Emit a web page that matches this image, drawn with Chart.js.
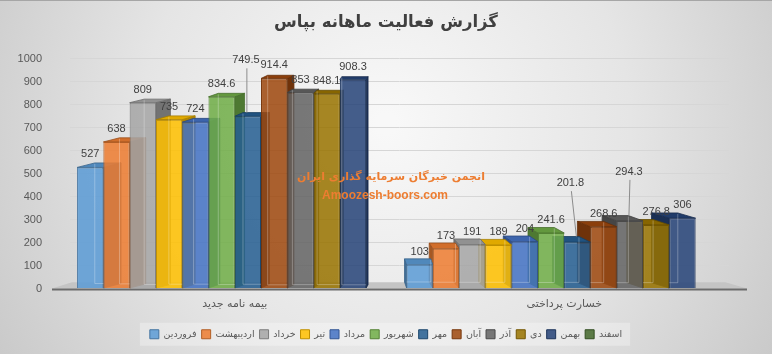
<!DOCTYPE html>
<html>
<head>
<meta charset="utf-8">
<script src="https://cdn.jsdelivr.net/npm/chart.js@4.4.1/dist/chart.umd.min.js"></script>
<style>
  html, body { margin: 0; padding: 0; }
  #wrap { width: 772px; height: 354px; position: relative; }
</style>
</head>
<body>
<div id="wrap"><canvas id="chart"></canvas></div>
<script>
const categories = ["بیمه نامه جدید", "خسارت پرداختی"]
const months = ["فروردین", "اردیبهشت", "خرداد", "تیر", "مرداد", "شهریور", "مهر", "آبان", "آذر", "دی", "بهمن", "اسفند"]
const newPolicies = [527, 638, 809, 735, 724, 834.6, 749.5, 914.4, 853, 848.1, 908.3, null]
const paidClaims = [103, 173, 191, 189, 204, 241.6, 201.8, 268.6, 294.3, 276.8, 306, null]
const yTicks = [0, 100, 200, 300, 400, 500, 600, 700, 800, 900, 1000]

const colors = ["#5B9BD5", "#ED7D31", "#A5A5A5", "#FFC000", "#4472C4", "#70AD47",
  "#255E91", "#9E480E", "#636363", "#997300", "#264478", "#43682B"]

const faFont = '"DejaVu Sans", sans-serif'
const numFont = '"Liberation Sans", Arial, sans-serif'
const textColor = "#595959"

// labels Excel pushed up with a leader line: [dx, dy from bar top]
const liftedLabels = { "6-0": [-2, -56], "6-1": [-7, -59], "8-1": [-1, -49] }

// fake perspective: bars lean toward the middle of the plot
const vanishX = 385
const depth = (cx, top) => ({ dx: -0.06 * (cx - vanishX), dy: 2 + top * 0.015 })

function rgb(hex) {
  const n = parseInt(hex.slice(1), 16)
  return [(n >> 16) & 255, (n >> 8) & 255, n & 255]
}
const rgba = (hex, a) => `rgba(${rgb(hex).join(",")},${a})`
const shade = (hex, f, a = 1) => `rgba(${rgb(hex).map(c => Math.round(c * (1 - f))).join(",")},${a})`

function poly(ctx, pts, fill) {
  ctx.beginPath()
  pts.forEach(([x, y], k) => k ? ctx.lineTo(x, y) : ctx.moveTo(x, y))
  ctx.closePath()
  ctx.fillStyle = fill
  ctx.fill()
  ctx.stroke()
}

function barsOf(chart, j) {
  const out = []
  chart.data.datasets.forEach((ds, i) => {
    const el = chart.getDatasetMeta(i).data[j]
    if (ds.data[j] == null || !el) return
    out.push({ i, el, value: ds.data[j] })
  })
  return out
}

const bars3d = {
  id: "bars3d",
  beforeDraw(chart) {
    const { ctx, width, height } = chart
    ctx.save()
    const g = ctx.createRadialGradient(width / 2, height * 0.35, 10, width / 2, height * 0.35, width * 0.62)
    g.addColorStop(0, "#f8f8f8")
    g.addColorStop(0.5, "#e5e5e5")
    g.addColorStop(1, "#c6c6c6")
    ctx.fillStyle = g
    ctx.fillRect(0, 0, width, height)
    ctx.fillStyle = "#a6a6a6"
    ctx.fillRect(0, 0, width, 1)

    const boxes = chart.legend.legendHitBoxes
    if (boxes && boxes.length) {
      const l = Math.min(...boxes.map(b => b.left)) - 10
      const r = Math.max(...boxes.map(b => b.left + b.width)) + 8
      const cy = boxes[0].top + boxes[0].height / 2
      ctx.fillStyle = "rgba(255,255,255,0.3)"
      ctx.fillRect(l, cy - 11.5, r - l, 23)
    }
    ctx.restore()
  },
  beforeDatasetsDraw(chart) {
    const { ctx, chartArea } = chart
    const yb = chart.scales.y.getPixelForValue(0)
    const left = chartArea.left - 18, right = chartArea.right + 18
    const dl = depth(left, yb), dr = depth(right, yb)
    ctx.save()
    ctx.strokeStyle = "rgba(0,0,0,0)"
    poly(ctx, [[left, yb], [right, yb], [right + dr.dx, yb - dr.dy], [left + dl.dx, yb - dl.dy]], "#c4c4c4")
    ctx.strokeStyle = "#6b6b6b"
    ctx.lineWidth = 2
    ctx.beginPath()
    ctx.moveTo(left, yb + 1)
    ctx.lineTo(right, yb + 1)
    ctx.stroke()

    categories.forEach((c, j) => {
      const items = barsOf(chart, j)
      if (chart.scales.x.getPixelForValue(j) > vanishX) items.reverse()
      items.forEach(({ i, el }) => {
        const w = el.width, x0 = el.x - w / 2, x1 = el.x + w / 2
        const top = el.y, base = el.base
        const { dx, dy } = depth(el.x, top)
        const sx = dx >= 0 ? x1 : x0
        ctx.lineWidth = 0.8
        ctx.strokeStyle = shade(colors[i], 0.35)
        poly(ctx, [[sx, top], [sx + dx, top - dy], [sx + dx, base - dy], [sx, base]], shade(colors[i], 0.3))
        poly(ctx, [[x0, top], [x1, top], [x1 + dx, top - dy], [x0 + dx, top - dy]], shade(colors[i], 0.12))
      })
    })
    ctx.restore()
  },
  afterDatasetsDraw(chart) {
    const { ctx } = chart
    ctx.save()
    categories.forEach((c, j) => {
      barsOf(chart, j).forEach(({ i, el, value }) => {
        const w = el.width, x0 = el.x - w / 2
        const { dx, dy } = depth(el.x, el.y)
        // back edges seen through the glassy front
        const bx = dx >= 0 ? x0 + dx : x0 + w + dx
        ctx.strokeStyle = "rgba(255,255,255,0.28)"
        ctx.lineWidth = 1
        ctx.beginPath()
        ctx.moveTo(bx, el.y - dy + 1)
        ctx.lineTo(bx, el.base - dy)
        ctx.lineTo(dx >= 0 ? x0 + w : x0, el.base - dy)
        ctx.stroke()

        let lx = el.x, ly = el.y - 13
        const lift = liftedLabels[`${i}-${j}`]
        if (lift) {
          lx = el.x + lift[0]
          ly = el.y + lift[1]
          ctx.strokeStyle = "#8c8c8c"
          ctx.beginPath()
          ctx.moveTo(lx + 1, ly + 8)
          ctx.lineTo(el.x - 1, el.y - dy)
          ctx.stroke()
        }
        ctx.font = `11px ${numFont}`
        ctx.fillStyle = "#404040"
        ctx.textAlign = "center"
        ctx.textBaseline = "middle"
        ctx.fillText(String(value), lx, ly)
      })
    })
    ctx.restore()
  },
  afterDraw(chart) {
    const { ctx } = chart
    ctx.save()
    ctx.fillStyle = "#ED7D31"
    ctx.textAlign = "center"
    ctx.textBaseline = "middle"
    ctx.font = `bold 11px ${faFont}`
    ctx.fillText("انجمن خبرگان سرمایه گذاری ایران", 391, 177)
    ctx.font = `bold 12px ${numFont}`
    ctx.fillText("Amoozesh-boors.com", 385, 196)
    ctx.restore()
  }
}

new Chart(document.getElementById("chart"), {
  type: "bar",
  data: {
    labels: categories,
    datasets: months.map((m, i) => ({
      label: m,
      data: [newPolicies[i], paidClaims[i]],
      backgroundColor: rgba(colors[i], 0.86),
      borderColor: shade(colors[i], 0.25),
      borderWidth: 1,
    }))
  },
  options: {
    responsive: true,
    maintainAspectRatio: false,
    animation: false,
    layout: { padding: { left: 0, right: 0, top: 0, bottom: 5 } },
    datasets: { bar: { categoryPercentage: 0.957, barPercentage: 1 } },
    plugins: {
      title: {
        display: true,
        text: "گزارش فعالیت ماهانه بپاس",
        color: "#404040",
        font: { family: faFont, size: 16.5, weight: "bold" },
        padding: { top: 13, bottom: 26 },
      },
      legend: {
        position: "bottom",
        labels: {
          boxWidth: 9,
          boxHeight: 9,
          padding: 5,
          color: textColor,
          font: { family: faFont, size: 9.5 },
        }
      },
      tooltip: { enabled: false },
    },
    scales: {
      x: {
        grid: { display: false, drawTicks: false },
        border: { display: false },
        ticks: { color: textColor, font: { family: faFont, size: 11 }, padding: 9 },
        afterFit: (s) => { s.height = 36 },
      },
      y: {
        min: 0,
        max: 1000,
        afterBuildTicks: (s) => { s.ticks = yTicks.map(v => ({ value: v })) },
        grid: { color: (c) => c.tick && c.tick.value === 0 ? "rgba(0,0,0,0)" : "#d6d6d6", drawTicks: false },
        border: { display: false },
        ticks: { color: textColor, font: { family: numFont, size: 11 }, padding: 28, callback: (v) => String(v) },
        afterFit: (s) => { s.width = 70 },
      },
      // empty right gutter so title and legend centre on the full width
      gutter: {
        type: "linear",
        position: "right",
        grid: { display: false, drawTicks: false },
        border: { display: false },
        ticks: { display: false },
        afterFit: (s) => { s.width = 43 },
      }
    }
  },
  plugins: [bars3d]
})
</script>
</body>
</html>
